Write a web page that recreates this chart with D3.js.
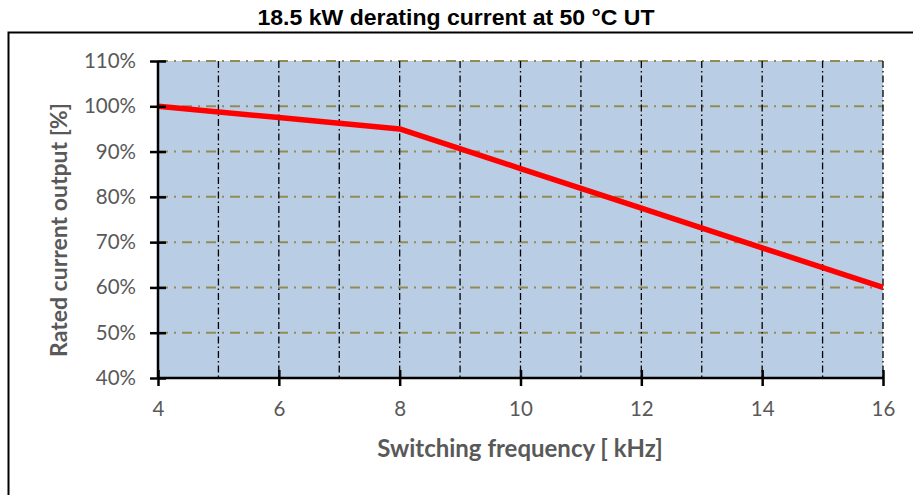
<!DOCTYPE html>
<html>
<head>
<meta charset="utf-8">
<script src="https://cdn.jsdelivr.net/npm/d3@7"></script>
<style>
  html, body { margin: 0; padding: 0; background: #fff; }
  svg { display: block; }
</style>
</head>
<body>
<svg id="chart" width="913" height="495"></svg>
<script>
// Derating curve: switching frequency (kHz) vs rated current output (%)
const frequencies = [4, 6, 8, 10, 12, 14, 16];
const currentPct = [100, 97.5, 95, 86.25, 77.5, 68.75, 60];
const xTicks = [4, 6, 8, 10, 12, 14, 16];
const xGrid = [5, 6, 7, 8, 9, 10, 11, 12, 13, 14, 15, 16];
const yTicks = [40, 50, 60, 70, 80, 90, 100, 110];

const svg = d3.select("#chart");
const W = 913, H = 495;
const plot = { left: 158, right: 883, top: 61, bottom: 378 };

const x = d3.scaleLinear().domain([4, 16]).range([plot.left, plot.right]);
const y = d3.scaleLinear().domain([40, 110]).range([plot.bottom, plot.top]);

// Outer frame (open on right and bottom edges of the window)
svg.append("path")
  .attr("d", `M8.5,${H + 2} L8.5,32.5 L${W + 2},32.5`)
  .attr("fill", "none").attr("stroke", "#000").attr("stroke-width", 2);

// Title
svg.append("text")
  .attr("x", 456).attr("y", 25)
  .attr("text-anchor", "middle")
  .attr("font-family", "Liberation Sans, Arial, sans-serif")
  .attr("font-weight", "bold").attr("font-size", 22)
  .attr("textLength", 397).attr("lengthAdjust", "spacingAndGlyphs")
  .text("18.5 kW derating current at 50 °C UT");

// Plot background
svg.append("rect")
  .attr("x", plot.left).attr("y", plot.top)
  .attr("width", plot.right - plot.left).attr("height", plot.bottom - plot.top)
  .attr("fill", "#b9cde4");

// Horizontal gridlines
svg.append("g").selectAll("line").data(yTicks.filter(d => d > 40)).join("line")
  .attr("x1", plot.left).attr("x2", plot.right)
  .attr("y1", d => y(d)).attr("y2", d => y(d))
  .attr("stroke", "#948a54").attr("stroke-width", 2)
  .attr("stroke-dasharray", "10,6,2,6");

// Vertical gridlines
svg.append("g").selectAll("line").data(xGrid).join("line")
  .attr("x1", d => x(d)).attr("x2", d => x(d))
  .attr("y1", plot.top).attr("y2", plot.bottom)
  .attr("stroke", "#000").attr("stroke-width", 1.3)
  .attr("stroke-dasharray", "7,3,1.5,3");

// Data line
const line = d3.line().x((d, i) => x(frequencies[i])).y(d => y(d));
svg.append("path")
  .datum(currentPct)
  .attr("d", line)
  .attr("fill", "none").attr("stroke", "#ff0000").attr("stroke-width", 5.5)
  .attr("stroke-linejoin", "round");

// Axes
const tickFont = "Lato, Carlito, Calibri, sans-serif";
const yAxis = svg.append("g")
  .attr("transform", `translate(${plot.left},0)`)
  .call(d3.axisLeft(y).tickValues(yTicks).tickFormat(d => d + "%").tickSize(8).tickPadding(14));
yAxis.selectAll(".tick line").attr("x2", 8).attr("x1", -8).attr("stroke-width", 2.5);
yAxis.select(".domain").attr("stroke-width", 2.5).attr("d", `M0,${plot.top}V${plot.bottom}`);

const xAxis = svg.append("g")
  .attr("transform", `translate(0,${plot.bottom})`)
  .call(d3.axisBottom(x).tickValues(xTicks).tickFormat(d3.format("d")).tickSize(8).tickPadding(15));
xAxis.selectAll(".tick line").attr("y1", -8).attr("y2", 8).attr("stroke-width", 2.5);
xAxis.select(".domain").attr("stroke-width", 2.5).attr("d", `M${plot.left},0H${plot.right}`);

[yAxis, xAxis].forEach(g => g.attr("font-size", null).selectAll("text")
  .attr("font-family", tickFont).attr("font-size", 20.5).attr("fill", "#595959"));

// Axis titles
svg.append("text")
  .attr("transform", `translate(67,230) rotate(-90)`)
  .attr("text-anchor", "middle")
  .attr("font-family", tickFont).attr("font-weight", "bold").attr("font-size", 23)
  .attr("fill", "#595959")
  .text("Rated current output [%]");

svg.append("text")
  .attr("x", 520).attr("y", 457)
  .attr("text-anchor", "middle")
  .attr("font-family", tickFont).attr("font-weight", "bold").attr("font-size", 24)
  .attr("fill", "#595959")
  .text("Switching frequency [ kHz]");
</script>
</body>
</html>
